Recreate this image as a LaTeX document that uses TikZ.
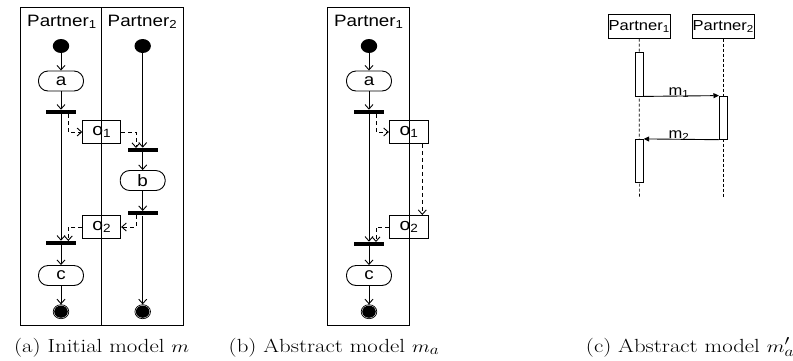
\documentclass[tikz,border=0pt]{standalone}
\usepackage{fontspec}
\usepackage{graphicx}
\newfontfamily\arial{Liberation Sans}
\usetikzlibrary{arrows.meta,calc,shapes.geometric}
% horizontal stretch used for all lettering
\newcommand\hs[1]{\scalebox{1.14}[1]{#1}}
\newcommand\capx[1]{\scalebox{1.2}[1]{#1}}
\begin{document}
\begin{tikzpicture}[x=1pt,y=-1pt,
  frame/.style={draw,line width=1pt},
  flow/.style={line width=0.9pt,-{Straight Barb[length=4.5pt,width=8pt,line width=0.9pt]}},
  dflow/.style={flow,dash pattern=on 4pt off 3pt},
  title/.style={font=\arial\fontsize{16.5}{16}\selectfont,anchor=base,inner sep=0},
  act/.style={draw,line width=0.9pt,rounded corners=9.5pt,minimum width=45pt,minimum height=20pt,inner sep=0,font=\arial\fontsize{16.5}{16}\selectfont},
  obj/.style={draw,line width=0.9pt,minimum width=38pt,minimum height=23pt,inner sep=0,font=\arial\fontsize{17}{16}\selectfont},
  bar/.style={fill=black,minimum width=29.6pt,minimum height=4.2pt,inner sep=0},
  initial/.style={ellipse,fill=black,minimum width=16.4pt,minimum height=14pt,inner sep=0},
  final/.style={ellipse,draw,line width=0.7pt,fill=white,minimum width=15.6pt,minimum height=14pt,inner sep=0},
  head/.style={draw,line width=0.8pt,minimum width=61.6pt,minimum height=24pt,inner sep=0,font=\arial\fontsize{14.5}{14}\selectfont},
  bolt/.style={draw,line width=0.8pt,fill=white,minimum width=7.6pt,inner sep=0},
  life/.style={line width=0.7pt,dash pattern=on 3pt off 2pt},
  msg/.style={line width=0.9pt,-{Triangle[length=5.5pt,width=5pt]}},
  mlabel/.style={font=\arial\fontsize{14.5}{14}\selectfont,inner sep=1pt,anchor=base},
  caption/.style={font=\fontsize{19}{22}\selectfont,anchor=base,inner sep=0}
]
\useasboundingbox (0,0) rectangle (793,360);

% ---------------- (a) initial model: two swimlanes ----------------
\draw[frame] (20.7,7.3) rectangle (183,325);
\draw[frame] (101.7,7.3) -- (101.7,325);
\node[title] (ta1) at (62,26.3) {\hs{Partner\textsubscript{1}}};
\node[title] (ta2) at (142.5,26.3) {\hs{Partner\textsubscript{2}}};

\node[initial] (as1) at (61,46) {};
\node[act] (aa) at (61,81) {\hs{a}};
\node[bar] (af1) at (61,112) {};
\node[bar] (af4) at (61,243) {};
\node[act] (ac) at (61,275.5) {\hs{c}};
\node[final] (ae1) at (61,311.7) {};
\fill (ae1) ellipse [x radius=6.8pt,y radius=6.1pt];

\node[initial] (as2) at (142.7,46) {};
\node[bar] (af2) at (142.7,150) {};
\node[act] (ab) at (142.7,180.5) {\hs{b}};
\node[bar] (af3) at (142.7,213.3) {};
\node[final] (ae2) at (142.7,311.7) {};
\fill (ae2) ellipse [x radius=6.8pt,y radius=6.1pt];

\node[obj] (ao1) at (101.7,132) {\hs{o\textsubscript{1}}};
\node[obj] (ao2) at (101.7,227) {\hs{o\textsubscript{2}}};

\draw[flow] (as1) -- (aa);
\draw[flow] (aa) -- (af1);
\draw[flow] (af1) -- (af4);
\draw[flow] (af4) -- (ac);
\draw[flow] (ac) -- (ae1);
\draw[flow] (as2) -- (af2);
\draw[flow] (af2) -- (ab);
\draw[flow] (ab) -- (af3);
\draw[flow] (af3) -- (ae2);

\coordinate (ad1) at (68.3,114);
\coordinate (ad2) at (136,148);
\coordinate (ad3) at (136,215.3);
\coordinate (ad4) at (68.3,241);
\draw[dflow] (ad1) |- (ao1);
\draw[dflow] (ao1) -| (ad2);
\draw[dflow] (ad3) |- (ao2);
\draw[dflow] (ao2) -| (ad4);

\node[caption] (capa) at (101.7,352) {\capx{(a) Initial model $m$}};

% ---------------- (b) abstract model: one swimlane ----------------
\draw[frame] (327.3,7.3) rectangle (409.3,325);
\node[title] (tb1) at (368.8,26.3) {\hs{Partner\textsubscript{1}}};

\node[initial] (bs1) at (369,46) {};
\node[act] (ba) at (369,81) {\hs{a}};
\node[bar] (bf1) at (369,112) {};
\node[bar] (bf4) at (369,244) {};
\node[act] (bc) at (369,275.5) {\hs{c}};
\node[final] (be1) at (369,311.7) {};
\fill (be1) ellipse [x radius=6.8pt,y radius=6.1pt];

\node[obj,minimum width=39.4pt] (bo1) at (409,132) {\hs{o\textsubscript{1}}};
\node[obj,minimum width=39.4pt] (bo2) at (409,227) {\hs{o\textsubscript{2}}};

\draw[flow] (bs1) -- (ba);
\draw[flow] (ba) -- (bf1);
\draw[flow] (bf1) -- (bf4);
\draw[flow] (bf4) -- (bc);
\draw[flow] (bc) -- (be1);

\coordinate (bd1) at (376,114);
\coordinate (bd4) at (376,242);
\coordinate (bv) at (422.3,0);
\draw[dflow] (bd1) |- (bo1);
\draw[dflow] (bo2) -| (bd4);
\draw[dflow] (bo1.south -| bv) -- (bo2.north -| bv);

\node[caption] (capb) at (334,352) {\capx{(b) Abstract model $m_a$}};

% ---------------- (c) abstract model as a sequence ----------------
\node[head] (p1) at (639.2,26.3) {\hs{Partner\textsubscript{1}}};
\node[head] (p2) at (723.3,26.3) {\hs{Partner\textsubscript{2}}};
\coordinate (l1) at (639.4,196.7);
\coordinate (l2) at (723.3,196.7);
\draw[life] (p1) -- (l1);
\draw[life] (p2) -- (l2);

\node[bolt,minimum height=43.3pt] (x1) at (639.5,74.35) {};
\node[bolt,minimum height=43.3pt] (x2) at (723.2,117.65) {};
\node[bolt,minimum height=43.4pt] (x3) at (639.5,161) {};

\draw[msg] (x1.south east) -- node[mlabel,pos=0.47,yshift=1pt] (m1) {\hs{m\textsubscript{1}}} (x2.north west);
\draw[msg] (x2.south west) -- node[mlabel,pos=0.53,yshift=1pt] (m2) {\hs{m\textsubscript{2}}} (x3.north east);

\node[caption] (capc) at (690,352) {\capx{(c) Abstract model $m'_a$}};
\end{tikzpicture}
\end{document}
